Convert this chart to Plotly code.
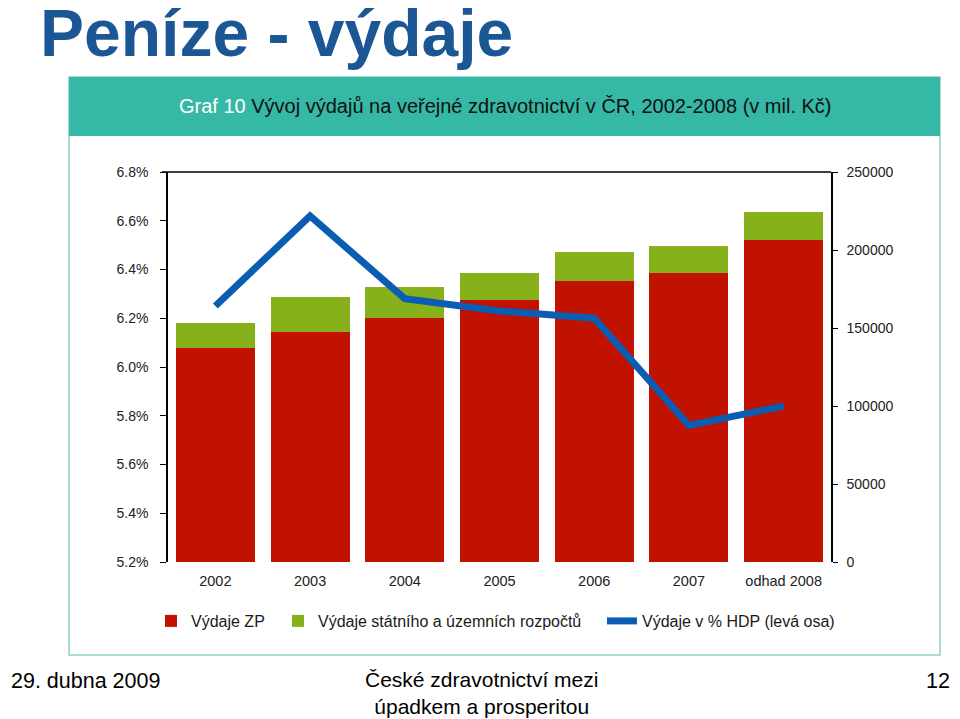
import plotly.graph_objects as go

categories = ["2002", "2003", "2004", "2005", "2006", "2007", "odhad 2008"]
vydaje_zp = [137100, 147400, 156600, 168200, 179900, 185500, 206200]
vydaje_stat = [16400, 22400, 19600, 17100, 18800, 17100, 18400]
vydaje_hdp = [6.25, 6.62, 6.28, 6.23, 6.20, 5.76, 5.84]

left_ticks = [5.2, 5.4, 5.6, 5.8, 6.0, 6.2, 6.4, 6.6, 6.8]
right_ticks = [0, 50000, 100000, 150000, 200000, 250000]

# the page body keeps an 8px margin, so the figure is laid out in screen pixels minus 8
OX, OY = 8, 8
W, H = 952, 711
def px(x):
    return (x - OX) / W
def py(y):
    return 1 - (y - OY) / H

RED = "#c11200"
GREEN = "#86b11a"
BLUE = "#0a5db2"
TEAL = "#35b8a5"
SANS = "Liberation Sans, Arial, Helvetica, sans-serif"

fig = go.Figure()
fig.add_trace(go.Bar(x=categories, y=vydaje_zp, name="Výdaje ZP",
                     marker=dict(color=RED, line=dict(width=0)), width=0.834,
                     legend="legend", yaxis="y"))
fig.add_trace(go.Bar(x=categories, y=vydaje_stat, name="Výdaje státního a územních rozpočtů",
                     marker=dict(color=GREEN, line=dict(width=0)), width=0.834,
                     legend="legend2", yaxis="y"))
fig.add_trace(go.Scatter(x=categories, y=vydaje_hdp, name="Výdaje v % HDP (levá osa)",
                         mode="lines", line=dict(color=BLUE, width=7),
                         legend="legend3", yaxis="y2"))

dom_x = [px(168), px(831)]
dom_y = [py(562), py(172)]

legend_common = dict(orientation="h", yanchor="middle", xanchor="left",
                     bgcolor="rgba(0,0,0,0)", borderwidth=0,
                     font=dict(family=SANS, size=16, color="#1a1a1a"))

fig.update_layout(
    width=W, height=H, autosize=False,
    margin=dict(l=0, r=0, t=0, b=0, autoexpand=False),
    paper_bgcolor="white", plot_bgcolor="rgba(0,0,0,0)",
    barmode="stack", bargap=0,
    xaxis=dict(domain=dom_x, type="category", range=[-0.5, 6.5],
               showline=False, showgrid=False, zeroline=False,
               ticks="outside", ticklen=6, tickcolor="rgba(0,0,0,0)",
               tickfont=dict(family=SANS, size=14.5, color="#222")),
    yaxis=dict(domain=dom_y, side="right", range=[0, 250000],
               tickvals=right_ticks, ticktext=[str(v) for v in right_ticks],
               showline=True, linecolor="black", linewidth=1.5,
               ticks="outside", ticklen=5, tickcolor="black", tickwidth=1.2,
               ticklabelstandoff=6,
               showgrid=False, zeroline=False,
               tickfont=dict(family=SANS, size=14, color="#222")),
    yaxis2=dict(domain=dom_y, overlaying="y", side="left", range=[5.2, 6.8],
                anchor="x",
                tickvals=left_ticks, ticktext=[f"{v:.1f}%" for v in left_ticks],
                showline=True, linecolor="black", linewidth=1.5,
                ticks="outside", ticklen=6, tickcolor="black", tickwidth=1.2,
                ticklabelstandoff=9,
                showgrid=False, zeroline=False,
                tickfont=dict(family=SANS, size=14, color="#222")),
    legend=dict(x=px(151), y=py(621), **legend_common),
    legend2=dict(x=px(278), y=py(621), **legend_common),
    legend3=dict(x=px(602), y=py(621), **legend_common),
    showlegend=True,
    shapes=[
        dict(type="rect", xref="paper", yref="paper", x0=px(69), x1=px(940), y0=py(655), y1=py(77),
             line=dict(color="#8fd1c8", width=1.5), fillcolor="white", layer="below"),
        dict(type="rect", xref="paper", yref="paper", x0=px(69), x1=px(940), y0=py(136), y1=py(77),
             line=dict(width=0), fillcolor=TEAL, layer="below"),
        dict(type="line", xref="paper", yref="paper", x0=px(162), x1=px(831), y0=py(172), y1=py(172),
             line=dict(color="black", width=1.5), layer="above"),
    ],
    annotations=[
        dict(text="<b>Peníze - výdaje</b>", xref="paper", yref="paper", x=px(38), y=py(33),
             xanchor="left", yanchor="middle", showarrow=False,
             font=dict(family=SANS, size=66, color="#1b5795")),
        dict(text="<span style='color:white'>Graf 10</span> Vývoj výdajů na veřejné zdravotnictví v ČR, 2002-2008 (v mil. Kč)",
             xref="paper", yref="paper", x=px(505), y=py(106), xanchor="center", yanchor="middle",
             showarrow=False, font=dict(family=SANS, size=20, color="#111")),
        dict(text="29. dubna 2009", xref="paper", yref="paper", x=px(9), y=py(681),
             xanchor="left", yanchor="middle", showarrow=False,
             font=dict(family=SANS, size=21.5, color="black")),
        dict(text="České zdravotnictví mezi<br>úpadkem a prosperitou", xref="paper", yref="paper",
             x=px(481), y=py(693), xanchor="center", yanchor="middle", showarrow=False,
             font=dict(family=SANS, size=21, color="black")),
        dict(text="12", xref="paper", yref="paper", x=px(952), y=py(681),
             xanchor="right", yanchor="middle", showarrow=False,
             font=dict(family=SANS, size=21.5, color="black")),
    ],
)

fig.write_html("out.html")
